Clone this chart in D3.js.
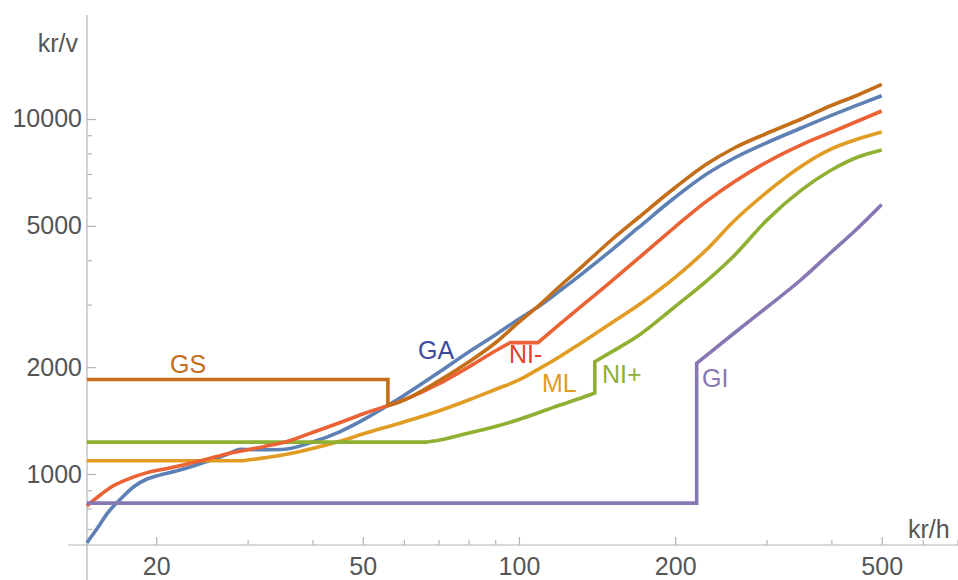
<!DOCTYPE html>
<html>
<head>
<meta charset="utf-8">
<script src="https://cdn.jsdelivr.net/npm/d3@7"></script>
<style>
  body { margin: 0; background: #fff; }
  text { font-family: "Liberation Sans", Arial, sans-serif; }
</style>
</head>
<body>
<svg id="chart" width="958" height="580"></svg>
<script>
// each series: [kr/h, kr/v]
var gaPoints = [[14.7,640],[15.4,703],[16.1,775],[17.0,845],[18.1,921],[19.2,968],[20.0,987],[22.2,1026],
  [23.9,1060],[25.8,1100],[27.7,1144],[29.0,1174],[31.2,1170],[35,1172],[40,1230],[45,1313],[50,1419],
  [60,1664],[70,1931],[80,2207],[90,2464],[100,2733],[110,2988],[120,3286],[130,3592],[140,3914],[150,4246],
  [170,4948],[200,6018],[230,6996],[260,7766],[300,8570],[350,9432],[400,10242],[450,10957],[500,11630]];
var mlPoints = [[14.7,1090],[29.4,1090],[35,1131],[40,1180],[45,1235],[50,1296],[60,1401],[70,1505],[80,1616],
  [90,1730],[100,1840],[110,1989],[120,2143],[130,2310],[140,2480],[150,2651],[170,2993],[200,3580],[230,4290],
  [260,5168],[300,6212],[350,7362],[400,8237],[450,8785],[500,9192]];
var niPlusPoints = [[14.7,1230],[66.4,1230],[70,1245],[80,1305],[90,1361],[100,1424],[110,1495],[120,1564],
  [130,1626],[140,1691],[140,2072],[150,2198],[170,2455],[200,2964],[230,3499],[260,4126],[300,5182],
  [350,6306],[400,7183],[450,7816],[500,8180]];
var niMinusPoints = [[14.7,813],[15.6,873],[16.5,925],[17.8,972],[19.2,1009],[20.6,1031],[22.2,1055],[23.9,1083],
  [25.8,1114],[27.7,1144],[29.9,1169],[32.2,1194],[35,1224],[40,1309],[45,1392],[50,1476],[60,1616],[70,1793],
  [80,2002],[90,2221],[96.1,2344],[108.8,2344],[120,2647],[130,2920],[140,3191],[150,3472],[170,4054],
  [200,4970],[230,5868],[260,6655],[300,7555],[350,8458],[400,9180],[450,9872],[500,10532]];
var giPoints = [[14.7,828],[220,828],[220,2050],[260,2496],[300,2944],[350,3531],[400,4221],[450,4932],[500,5743]];
var gsPoints = [[14.7,1845],[55.9,1845],[55.9,1564],[57.2,1574],[60,1616],[70,1828],[80,2068],[90,2339],
  [100,2680],[110,3011],[120,3385],[130,3754],[140,4140],[150,4532],[170,5279],[200,6412],[230,7467],
  [260,8286],[300,9103],[350,10000],[400,10916],[450,11684],[500,12510]];

var seriesNames = ["GA", "ML", "NI+", "NI-", "GI", "GS"];
var seriesData = [gaPoints, mlPoints, niPlusPoints, niMinusPoints, giPoints, gsPoints];

var xMajorTicks = [20, 50, 100, 200, 500];
var xMinorTicks = [30, 40, 60, 70, 80, 90, 300, 400, 600, 700];
var yMajorTicks = [1000, 2000, 5000, 10000];
var yMinorTicks = [700, 800, 900, 3000, 4000, 6000, 7000, 8000, 9000];

// styles
var lineColors = {"GA": "#5E81B5", "ML": "#E19C24", "NI+": "#8FB032", "NI-": "#EB6235", "GI": "#8778B3", "GS": "#C56E1A"};
var labelColors = {"GA": "#3D4A9C", "ML": "#E19C24", "NI+": "#8FB032", "NI-": "#E5402A", "GI": "#8778B3", "GS": "#C56E1A"};
var labelPos = {"GA": [418, 359], "ML": [542, 392], "NI+": [602, 383], "NI-": [509, 363], "GI": [702, 387], "GS": [170, 373]};

var svg = d3.select("#chart");

var x = d3.scaleLog().domain([14.71, 500]).range([87, 881.7]);
var y = d3.scaleLog().domain([631, 19630]).range([545, 15]);

var axisColor = "#b4b4b4", textColor = "#555";

// axes lines
svg.append("line").attr("x1", 68).attr("x2", 958).attr("y1", 545).attr("y2", 545)
  .attr("stroke", axisColor).attr("stroke-width", 1.2);
svg.append("line").attr("x1", 87).attr("x2", 87).attr("y1", 15).attr("y2", 580)
  .attr("stroke", axisColor).attr("stroke-width", 1.2);

// x ticks
var gx = svg.append("g").attr("transform", "translate(0,545)")
  .call(d3.axisBottom(x).tickValues(xMajorTicks).tickFormat(d3.format("d")).tickSize(-8).tickPadding(12));
var gxm = svg.append("g").attr("transform", "translate(0,545)")
  .call(d3.axisBottom(x).tickValues(xMinorTicks).tickFormat("").tickSize(-5));

// y ticks
var gy = svg.append("g").attr("transform", "translate(87,0)")
  .call(d3.axisLeft(y).tickValues(yMajorTicks).tickFormat(d3.format("d")).tickSize(-9).tickPadding(5));
var gym = svg.append("g").attr("transform", "translate(87,0)")
  .call(d3.axisLeft(y).tickValues(yMinorTicks).tickFormat("").tickSize(-5));

[gx, gxm, gy, gym].forEach(function(g){
  g.select(".domain").remove();
  g.selectAll(".tick line").attr("stroke", axisColor).attr("stroke-width", 1.2);
  g.selectAll(".tick text").attr("fill", textColor).style("font-size", "25px")
    .style("font-family", "'Liberation Sans', Arial, sans-serif");
});

// axis titles
svg.append("text").attr("x", 78).attr("y", 52).attr("text-anchor", "end")
  .attr("fill", textColor).style("font-size", "25px").text("kr/v");
svg.append("text").attr("x", 908).attr("y", 538)
  .attr("fill", textColor).style("font-size", "25px").text("kr/h");

// split a series at flat / vertical segments so corners stay sharp
function isStraight(a, b){ return a[0] === b[0] || a[1] === b[1]; }

function buildPath(pts){
  var runs = [], cur = [pts[0]];
  for (var i = 1; i < pts.length; i++){
    cur.push(pts[i]);
    if (i < pts.length - 1 && (isStraight(pts[i-1], pts[i]) || isStraight(pts[i], pts[i+1]))){
      runs.push(cur);
      cur = [pts[i]];
    }
  }
  runs.push(cur);
  var line = d3.line()
    .x(function(d){ return x(d[0]); })
    .y(function(d){ return y(d[1]); })
    .curve(d3.curveMonotoneX);
  return runs.map(function(r, k){
    var s = line(r);
    return k ? "L" + s.slice(1) : s;
  }).join("");
}

svg.selectAll(".series")
  .data(seriesNames)
  .enter().append("path")
  .attr("class", "series")
  .attr("d", function(d, i){ return buildPath(seriesData[i]); })
  .attr("fill", "none")
  .attr("stroke", function(d){ return lineColors[d]; })
  .attr("stroke-width", 3.6)
  .attr("stroke-linejoin", "miter")
  .attr("stroke-linecap", "butt");

svg.selectAll(".seriesLabel")
  .data(seriesNames)
  .enter().append("text")
  .attr("class", "seriesLabel")
  .attr("x", function(d){ return labelPos[d][0]; })
  .attr("y", function(d){ return labelPos[d][1]; })
  .attr("fill", function(d){ return labelColors[d]; })
  .style("font-size", "25px")
  .text(function(d){ return d; });
</script>
</body>
</html>
